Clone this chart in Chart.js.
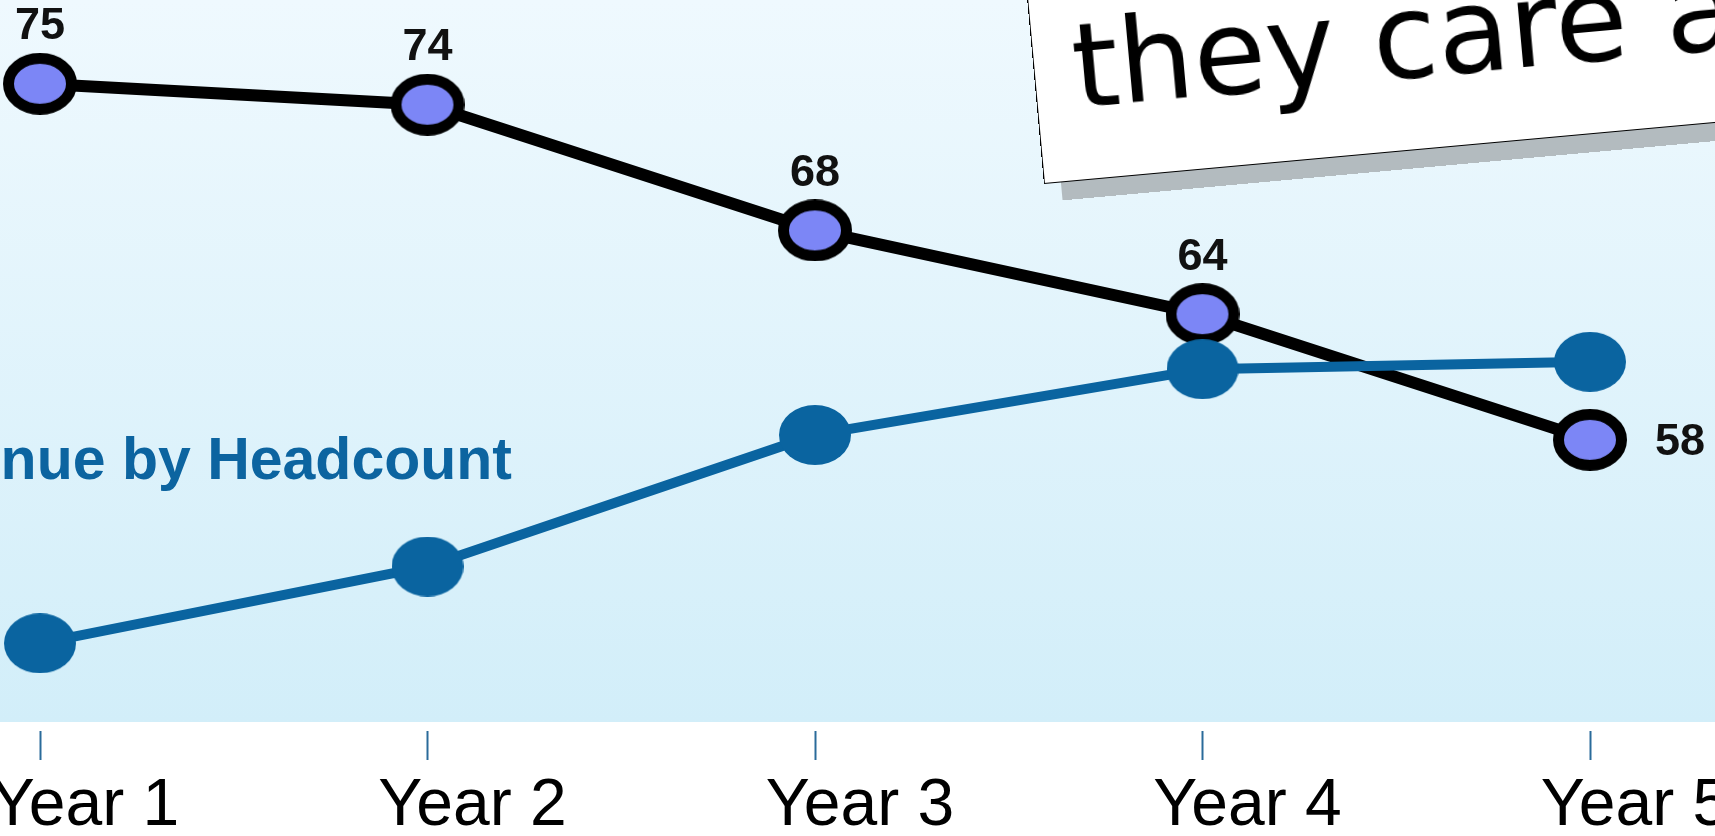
<!DOCTYPE html>
<html>
<head>
<meta charset="utf-8">
<script src="https://cdn.jsdelivr.net/npm/chart.js@4.4.1/dist/chart.umd.min.js"></script>
<style>
  html, body { margin: 0; padding: 0; background: #fff; overflow: hidden; }
  #wrap { position: relative; width: 1715px; height: 836px; overflow: hidden; }
  #chart { position: absolute; left: 0; top: 0; }
  #seriesLabel {
    position: absolute; right: 1203px; top: 430px;
    font: bold 59px "Liberation Sans", Arial, sans-serif; line-height: 59px;
    color: #0c64a0; white-space: nowrap;
  }
  #callout {
    position: absolute; left: 1044px; top: -216px; width: 900px; height: 400px;
    box-sizing: border-box; background: #fff; border: 1.5px solid #000;
    box-shadow: 17px 18px 0 #b3bbbf;
    transform-origin: 0 100%; transform: rotate(-5.2deg);
  }
  #callout span {
    position: absolute; left: 38px; bottom: 54px;
    font: 118px "DejaVu Sans", sans-serif; line-height: 118px;
    color: #000; white-space: nowrap;
  }
</style>
</head>
<body>
<div id="wrap">
  <canvas id="chart" width="1715" height="836"></canvas>
  <div id="seriesLabel">Revenue by Headcount</div>
  <div id="callout"><span>they care a</span></div>
</div>
<script>
// values
const years = ['Year 1', 'Year 2', 'Year 3', 'Year 4', 'Year 5'];
const scores = [75, 74, 68, 64, 58];                      // black line, labelled
const revenueByHeadcount = [12, 22.5, 40.5, 49.5, 50.5];  // blue line, no labels shown (estimated)

// elliptical markers, drawn once and handed to chart.js as point styles
function ellipseMarker(w, h, fill, stroke, lw) {
    var c = document.createElement('canvas');
    c.width = w; c.height = h;
    var g = c.getContext('2d');
    g.beginPath();
    g.ellipse(w / 2, h / 2, w / 2 - lw / 2, h / 2 - lw / 2, 0, 0, Math.PI * 2);
    g.fillStyle = fill;
    g.fill();
    if (lw > 0) {
        g.lineWidth = lw;
        g.strokeStyle = stroke;
        g.stroke();
    }
    return c;
}
var scoreMarker = ellipseMarker(74, 62, '#7c86f6', '#000', 11);
var revenueMarker = ellipseMarker(72, 60, '#0a64a0', '#0a64a0', 0);

// light blue band behind the plot; it stops a little above the tick marks
const background = {
    id: 'background',
    beforeDraw(chart) {
        var ctx = chart.ctx, area = chart.chartArea;
        var bandBottom = area.bottom - 9;
        ctx.save();
        ctx.fillStyle = '#fff';
        ctx.fillRect(0, 0, chart.width, chart.height);
        var grad = ctx.createLinearGradient(0, 0, 0, bandBottom);
        grad.addColorStop(0, '#eff9fe');
        grad.addColorStop(1, '#d2eef9');
        ctx.fillStyle = grad;
        ctx.fillRect(0, 0, chart.width, bandBottom);
        ctx.restore();
    }
};

const valueLabels = {
    id: 'valueLabels',
    afterDatasetsDraw(chart) {
        var meta = chart.getDatasetMeta(1);
        var ctx = chart.ctx;
        ctx.save();
        ctx.font = 'bold 45px "Liberation Sans", Arial, sans-serif';
        ctx.fillStyle = '#111';
        ctx.textAlign = 'center';
        ctx.textBaseline = 'middle';
        meta.data.forEach(function (pt, i) {
            var last = i === meta.data.length - 1;
            // last value sits to the right of its marker, the rest above
            ctx.fillText(String(scores[i]), last ? pt.x + 90 : pt.x, last ? pt.y + 3 : pt.y - 57);
        });
        ctx.restore();
    }
};

var ctx_chart = document.getElementById('chart');
var myChart = new Chart(ctx_chart, {
    type: 'line',
    data: {
        labels: years,
        datasets: [
            {
                label: 'Revenue by Headcount',
                data: revenueByHeadcount,
                yAxisID: 'y1',
                borderColor: '#0a64a0',
                borderWidth: 10,
                tension: 0,
                clip: false,
                pointStyle: revenueMarker,
                pointRadius: 30,
                pointBorderWidth: 0,
                pointHoverRadius: 30
            },
            {
                label: 'Score',
                data: scores,
                yAxisID: 'y',
                borderColor: '#000',
                borderWidth: 12,
                tension: 0,
                clip: false,
                pointStyle: scoreMarker,
                pointRadius: 30,
                pointBorderWidth: 0,
                pointHoverRadius: 30
            }
        ]
    },
    options: {
        responsive: false,
        animation: false,
        layout: { autoPadding: false, padding: { left: 40, right: 125, top: 0, bottom: 0 } },
        plugins: {
            legend: { display: false },
            tooltip: { enabled: false },
            title: { display: false }
        },
        scales: {
            x: {
                border: { display: false },
                grid: {
                    drawOnChartArea: false,
                    drawTicks: true,
                    tickLength: 29,
                    tickColor: '#2a6b9a',
                    tickWidth: 2
                },
                ticks: {
                    color: '#000',
                    font: { family: '"Liberation Sans", Arial, sans-serif', size: 66, lineHeight: 1 },
                    padding: 14,
                    labelOffset: 45,
                    maxRotation: 0,
                    autoSkip: false
                },
                afterFit: function (scale) {
                    scale.paddingLeft = 0;
                    scale.paddingRight = 0;
                    scale.height = 105;   // plot area ends at y = 731
                }
            },
            y: { display: false, min: 44.1, max: 79 },
            y1: { display: false, min: 0, max: 100 }
        }
    },
    plugins: [background, valueLabels]
});
</script>
</body>
</html>
